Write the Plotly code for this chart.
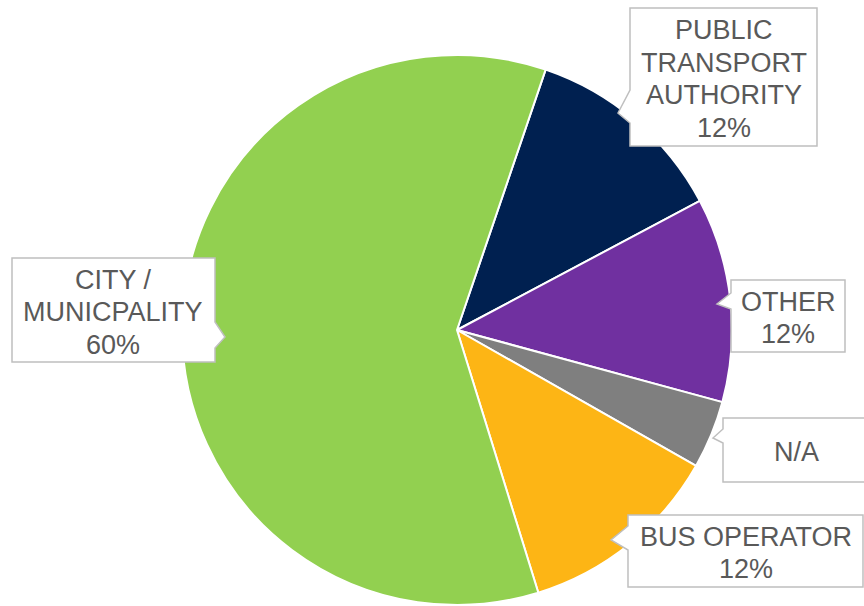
import plotly.graph_objects as go

W, H = 864, 606

etiquetas = ["PUBLIC TRANSPORT AUTHORITY", "OTHER", "N/A", "BUS OPERATOR", "CITY / MUNICPALITY"]
valores = [12, 12, 4, 12, 60]
colores = ["#002050", "#7030A0", "#7F7F7F", "#FDB515", "#92D050"]
textos = [
    ["PUBLIC", "TRANSPORT", "AUTHORITY", "12%"],
    ["OTHER", "12%"],
    ["N/A"],
    ["BUS OPERATOR", "12%"],
    ["CITY /", "MUNICPALITY", "60%"],
]

# callout boxes: (left, top, right, bottom) in pixels, pointer (side, y0, tip_x, tip_y, y1)
cajas = [
    ((630, 8, 817, 146), ("l", 90, 618, 113, 123)),
    ((731, 280, 845, 352), ("l", 293, 717, 304, 309)),
    ((723, 418, 870, 482), ("l", 429, 713, 438, 443)),
    ((628, 515, 863, 587), ("l", 526, 611, 540, 550)),
    ((12, 258, 215, 362), ("r", 322, 225, 337, 348)),
]
INTERLINEA = 32.5


def px(x, y):
    return f"{x / W:.5f},{1 - y / H:.5f}"


def callout(caja, puntero):
    l, t, r, b = caja
    lado, y0, tx, ty, y1 = puntero
    if lado == "l":
        pts = [(l, t), (r, t), (r, b), (l, b), (l, y1), (tx, ty), (l, y0)]
    else:
        pts = [(l, t), (r, t), (r, y0), (tx, ty), (r, y1), (r, b), (l, b)]
    return "M" + " L".join(px(x, y) for x, y in pts) + " Z"


fig = go.Figure(
    go.Pie(
        labels=etiquetas,
        values=valores,
        sort=False,
        direction="clockwise",
        rotation=18.8,
        marker={"colors": colores, "line": {"color": "white", "width": 2}},
        textinfo="none",
        hoverinfo="label+percent",
        domain={"x": [(457 - 275) / W, (457 + 275) / W], "y": [(H - 605) / H, 1 - 55 / H]},
    )
)

for lineas, (caja, puntero) in zip(textos, cajas):
    fig.add_shape(
        type="path", path=callout(caja, puntero), xref="paper", yref="paper",
        fillcolor="white", line={"color": "#BFBFBF", "width": 1.5}, layer="above",
    )
    l, t, r, b = caja
    cy = (t + b) / 2 + 2
    for i, linea in enumerate(lineas):
        y = cy + (i - (len(lineas) - 1) / 2) * INTERLINEA
        fig.add_annotation(
            x=(l + r) / 2 / W, y=1 - y / H, xref="paper", yref="paper",
            text=linea, showarrow=False, xanchor="center", yanchor="middle",
            font={"family": "Arial, Liberation Sans", "size": 27, "color": "#595959"},
        )

fig.update_layout(
    width=W, height=H, showlegend=False, paper_bgcolor="white", plot_bgcolor="white",
    margin={"l": 0, "r": 0, "t": 0, "b": 0},
)
fig.write_html(
    "out.html",
    config={"displayModeBar": False},
    post_script="document.body.style.margin='0';",
)
